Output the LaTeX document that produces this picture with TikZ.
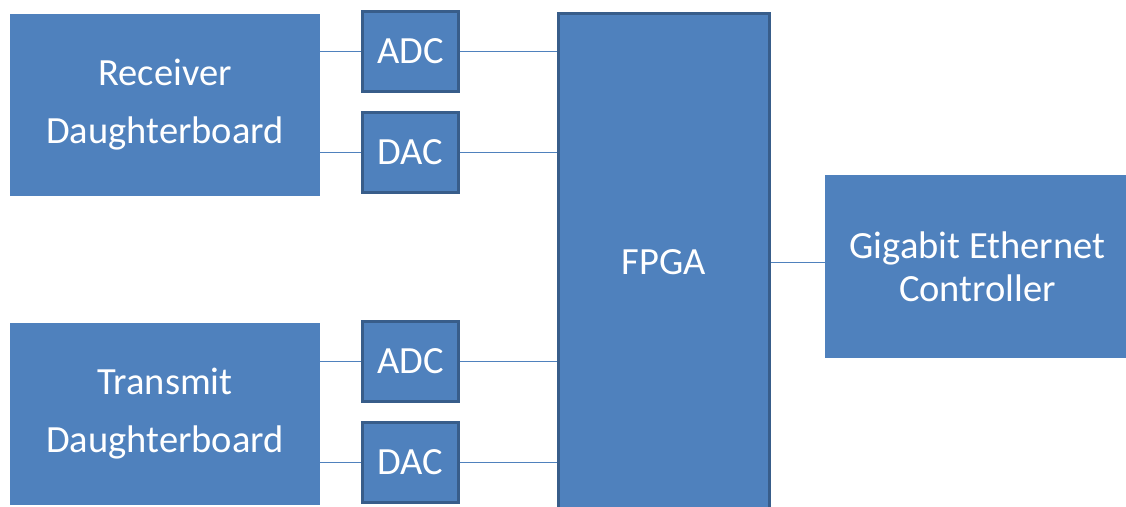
\documentclass[tikz,border=0pt]{standalone}
\usepackage{fontspec}
\setmainfont{Carlito}
\usepackage{tikz}
\usepackage{xcolor}

\definecolor{blockfill}{HTML}{4F81BD}
\definecolor{blockedge}{HTML}{385D8A}

\tikzset{
  board/.style={fill=blockfill, text=white, align=center, inner sep=0pt,
    font=\fontsize{38.5}{58}\selectfont},
  conv/.style={board, draw=blockedge, line width=3pt},
  wire/.style={draw=blockfill, line width=1.4pt}
}

\begin{document}
\begin{tikzpicture}[x=1pt, y=-1pt]
\useasboundingbox (0,0) rectangle (1126,506);
\clip (0,0) rectangle (1126,506);
\node[board, minimum width=310pt, minimum height=182pt] (rxdb) at (165,105) {Receiver\\Daughterboard};
\node[board, minimum width=310pt, minimum height=182pt] (txdb) at (165,414) {Transmit\\Daughterboard};
\node[conv, minimum width=96pt, minimum height=80pt] (adcrx) at (410.5,51.5) {ADC};
\node[conv, minimum width=96pt, minimum height=80pt] (dacrx) at (410.5,152.5) {DAC};
\node[conv, minimum width=96pt, minimum height=80pt] (adctx) at (410.5,361.5) {ADC};
\node[conv, minimum width=96pt, minimum height=80pt] (dactx) at (410.5,462.5) {DAC};
% FPGA runs off the bottom edge
\node[conv, minimum width=211pt, minimum height=560pt, anchor=north] (fpga) at (664,11.5)
  {\raisebox{18.5pt}[0pt][0pt]{FPGA}};
\coordinate (fpgaport) at ([yshift=30.5pt]fpga.east);
\node[board, minimum width=305pt, minimum height=183pt,
  font=\fontsize{38.5}{43}\selectfont] (gbe) at (977.5,266.5) {Gigabit Ethernet\\Controller};
\draw[wire] (rxdb.east |- adcrx) -- (adcrx.west);
\draw[wire] (rxdb.east |- dacrx) -- (dacrx.west);
\draw[wire] (txdb.east |- adctx) -- (adctx.west);
\draw[wire] (txdb.east |- dactx) -- (dactx.west);
\draw[wire] (adcrx.east) -- (fpga.west |- adcrx);
\draw[wire] (dacrx.east) -- (fpga.west |- dacrx);
\draw[wire] (adctx.east) -- (fpga.west |- adctx);
\draw[wire] (dactx.east) -- (fpga.west |- dactx);
\draw[wire] (fpgaport) -- (gbe.west |- fpgaport);
\end{tikzpicture}
\end{document}
